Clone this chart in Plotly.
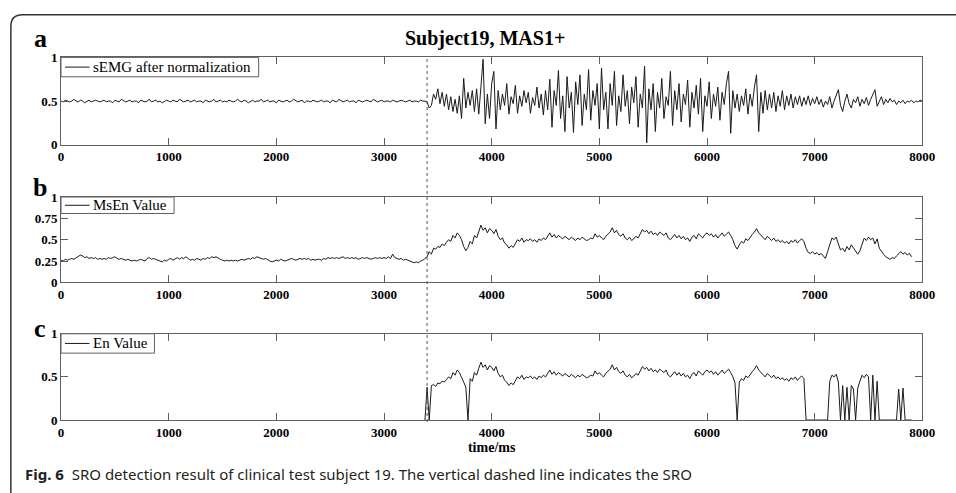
import plotly.graph_objects as go

W, H = 956, 493

# ---------------- data (20 ms sampling) ----------------
step_ms = 20
semg_start_ms = 0
msen_start_ms = 0
en_start_ms = 3380
sro_ms = 3400
x_ticks = [0, 1000, 2000, 3000, 4000, 5000, 6000, 7000, 8000]
ya_ticks = [0, 0.5, 1]
yb_ticks = [0, 0.25, 0.5, 0.75, 1]
yc_ticks = [0, 0.5, 1]
names = ["sEMG after normalization", "MsEn Value", "En Value"]

semg = [
    0.50,0.49,0.51,0.50,0.49,0.50,0.52,0.50,0.49,0.51,0.50,0.48,0.50,0.51,0.49,0.50,0.51,0.50,0.49,0.50,
    0.51,0.49,0.50,0.50,0.48,0.51,0.50,0.49,0.52,0.50,0.49,0.50,0.51,0.49,0.50,0.50,0.48,0.51,0.50,0.49,
    0.50,0.52,0.49,0.50,0.51,0.49,0.50,0.48,0.50,0.51,0.50,0.49,0.51,0.50,0.49,0.52,0.50,0.49,0.50,0.51,
    0.49,0.50,0.51,0.49,0.50,0.50,0.48,0.51,0.50,0.49,0.50,0.52,0.49,0.50,0.51,0.49,0.50,0.49,0.51,0.50,
    0.49,0.50,0.52,0.50,0.49,0.51,0.50,0.48,0.50,0.51,0.49,0.50,0.50,0.52,0.49,0.50,0.51,0.49,0.50,0.50,
    0.48,0.51,0.50,0.49,0.50,0.51,0.49,0.50,0.52,0.50,0.49,0.50,0.51,0.48,0.50,0.50,0.49,0.51,0.50,0.49,
    0.50,0.51,0.49,0.50,0.50,0.48,0.51,0.50,0.49,0.52,0.50,0.49,0.50,0.51,0.49,0.50,0.50,0.48,0.51,0.50,
    0.49,0.50,0.51,0.50,0.49,0.52,0.50,0.49,0.50,0.51,0.49,0.50,0.50,0.49,0.51,0.50,0.49,0.50,0.51,0.50,
    0.49,0.50,0.51,0.49,0.50,0.50,0.49,0.51,0.50,0.50,0.49,
    0.42,0.45,0.58,0.52,0.64,0.47,0.60,0.44,0.58,0.40,0.55,0.38,0.52,0.36,0.56,
    0.30,0.76,0.42,0.60,0.45,0.62,0.38,0.64,0.35,0.66,0.98,0.24,0.58,0.30,0.70,
    0.84,0.18,0.62,0.40,0.58,0.45,0.70,0.35,0.55,0.47,0.68,0.36,0.56,0.44,0.62,0.48,0.60,0.36,0.54,0.45,0.66,0.42,0.58,0.34,0.62,
    0.40,0.75,0.20,0.62,0.45,0.85,0.30,0.56,0.15,0.78,0.42,0.60,0.14,0.72,0.46,0.80,0.22,0.58,0.40,0.86,0.28,0.62,0.45,0.70,0.18,
    0.88,0.40,0.60,0.18,0.70,0.45,0.84,0.22,0.56,0.38,0.80,0.44,0.62,0.24,0.66,0.48,0.78,0.20,0.58,0.42,0.90,0.02,0.64,0.40,0.70,
    0.15,0.60,0.42,0.76,0.30,0.55,0.45,0.84,0.22,0.62,0.40,0.70,0.26,0.58,0.46,0.74,0.20,0.60,0.42,0.68,0.35,0.76,0.15,0.56,0.44,
    0.72,0.30,0.58,0.44,0.66,0.28,0.60,0.46,0.70,0.84,0.13,0.62,0.42,0.58,0.38,0.56,0.45,0.64,0.35,0.58,0.44,0.66,0.80,0.15,0.60,
    0.36,0.62,0.40,0.58,0.42,0.60,0.38,0.56,0.44,0.62,0.40,0.56,0.45,0.58,0.42,0.55,0.46,0.56,0.44,0.54,0.46,0.56,0.45,0.53,0.47,
    0.55,0.46,0.52,0.43,0.50,0.46,0.55,0.42,0.50,0.56,0.63,0.45,0.38,0.50,0.58,0.47,0.42,0.52,0.48,0.55,0.44,0.52,0.47,0.54,0.45,
    0.52,0.58,0.63,0.44,0.50,0.55,0.46,0.52,0.48,0.53,0.49,0.51,0.46,0.50,0.48,0.51,0.47,0.50,0.49,0.51,0.48,0.50,0.49,0.51,0.50,
]

msen = [
    0.26,0.25,0.27,0.26,0.27,0.28,0.27,0.29,0.30,0.32,0.31,0.29,0.30,0.28,0.29,0.28,0.29,0.27,0.28,0.27,
    0.28,0.27,0.29,0.28,0.29,0.30,0.28,0.27,0.28,0.27,0.26,0.27,0.26,0.25,0.26,0.25,0.26,0.27,0.26,0.25,
    0.28,0.29,0.27,0.28,0.27,0.26,0.25,0.24,0.26,0.25,0.27,0.28,0.26,0.28,0.29,0.27,0.29,0.28,0.30,0.28,
    0.26,0.27,0.26,0.28,0.27,0.26,0.28,0.27,0.29,0.28,0.30,0.29,0.30,0.28,0.27,0.26,0.25,0.26,0.25,0.26,
    0.25,0.26,0.25,0.26,0.27,0.26,0.27,0.28,0.27,0.29,0.28,0.30,0.29,0.28,0.27,0.28,0.26,0.25,0.24,0.25,
    0.26,0.25,0.27,0.26,0.25,0.26,0.27,0.28,0.27,0.26,0.27,0.28,0.27,0.28,0.27,0.28,0.26,0.27,0.26,0.27,
    0.27,0.26,0.28,0.27,0.29,0.28,0.29,0.28,0.29,0.28,0.29,0.30,0.28,0.29,0.28,0.29,0.28,0.29,0.27,0.28,
    0.29,0.28,0.29,0.28,0.27,0.28,0.29,0.28,0.29,0.28,0.29,0.28,0.30,0.28,0.33,0.29,0.28,0.27,0.28,0.26,
    0.27,0.26,0.25,0.24,0.23,0.24,0.23,0.25,0.26,0.28,0.30,0.36,0.33,0.40,0.39,0.42,0.41,0.45,0.43,0.47,
    0.50,0.48,0.55,0.52,0.58,0.55,0.50,0.42,0.37,0.41,0.48,0.45,0.55,0.52,0.60,0.67,0.61,0.64,0.58,0.63,
    0.61,0.57,0.62,0.54,0.50,0.52,0.46,0.44,0.40,0.43,0.41,0.46,0.50,0.48,0.52,0.47,0.50,0.49,0.51,0.48,
    0.50,0.47,0.51,0.49,0.52,0.50,0.54,0.58,0.53,0.56,0.52,0.55,0.53,0.51,0.54,0.52,0.50,0.53,0.51,0.49,
    0.52,0.50,0.53,0.51,0.49,0.50,0.52,0.51,0.57,0.53,0.55,0.52,0.50,0.54,0.56,0.59,0.64,0.58,0.61,0.56,
    0.54,0.57,0.52,0.50,0.53,0.49,0.51,0.54,0.52,0.58,0.62,0.59,0.61,0.57,0.60,0.56,0.58,0.55,0.59,0.57,
    0.55,0.58,0.52,0.50,0.53,0.56,0.52,0.55,0.51,0.54,0.50,0.52,0.48,0.53,0.55,0.51,0.57,0.54,0.52,0.56,
    0.58,0.55,0.57,0.53,0.56,0.52,0.55,0.58,0.54,0.57,0.59,0.55,0.50,0.43,0.39,0.44,0.48,0.46,0.51,0.49,
    0.53,0.56,0.59,0.63,0.58,0.55,0.52,0.50,0.54,0.51,0.49,0.52,0.48,0.50,0.47,0.49,0.46,0.48,0.45,0.49,
    0.47,0.50,0.46,0.49,0.51,0.48,0.40,0.35,0.34,0.36,0.33,0.35,0.32,0.34,0.31,0.28,0.36,0.45,0.52,0.50,
    0.53,0.45,0.38,0.40,0.36,0.42,0.38,0.44,0.40,0.36,0.33,0.37,0.45,0.52,0.49,0.53,0.50,0.52,0.45,0.51,
    0.40,0.36,0.33,0.30,0.28,0.27,0.29,0.28,0.31,0.34,0.36,0.33,0.35,0.32,0.34,0.30,
]

en = [
    0.00,0.38,0.00,0.40,0.41,0.39,0.43,0.42,0.45,0.44,0.47,
    0.50,0.48,0.55,0.52,0.58,0.55,0.50,0.44,0.38,0.00,0.48,0.45,0.55,0.52,0.60,0.67,0.61,0.64,0.58,0.63,
    0.61,0.57,0.62,0.54,0.50,0.52,0.46,0.44,0.40,0.43,0.41,0.46,0.50,0.48,0.52,0.47,0.50,0.49,0.51,0.48,
    0.50,0.47,0.51,0.49,0.52,0.50,0.54,0.58,0.53,0.56,0.52,0.55,0.53,0.51,0.54,0.52,0.50,0.53,0.51,0.49,
    0.52,0.50,0.53,0.51,0.49,0.50,0.52,0.51,0.57,0.53,0.55,0.52,0.50,0.54,0.56,0.59,0.64,0.58,0.61,0.56,
    0.54,0.57,0.52,0.50,0.53,0.49,0.51,0.54,0.52,0.58,0.62,0.59,0.61,0.57,0.60,0.56,0.58,0.55,0.59,0.57,
    0.55,0.58,0.52,0.50,0.53,0.56,0.52,0.55,0.51,0.54,0.50,0.52,0.48,0.53,0.55,0.51,0.57,0.54,0.52,0.56,
    0.58,0.55,0.57,0.53,0.56,0.52,0.55,0.58,0.54,0.57,0.59,0.55,0.50,0.43,0.00,0.44,0.48,0.46,0.51,0.49,
    0.53,0.56,0.59,0.63,0.58,0.55,0.52,0.50,0.54,0.51,0.49,0.52,0.48,0.50,0.47,0.49,0.46,0.48,0.45,0.49,
    0.47,0.50,0.46,0.49,0.51,0.48,0.00,0.00,0.00,0.00,0.00,0.00,0.00,0.00,0.00,0.00,0.00,0.45,0.52,0.50,
    0.53,0.44,0.00,0.40,0.00,0.38,0.00,0.40,0.36,0.00,0.37,0.45,0.52,0.49,0.53,0.50,0.00,0.52,0.00,0.45,
    0.00,0.00,0.00,0.00,0.00,0.00,0.00,0.00,0.00,0.36,0.00,0.37,0.00,0.00,0.00,0.00,
]

semg_t = [semg_start_ms + i * step_ms for i in range(len(semg))]
msen_t = [msen_start_ms + i * step_ms for i in range(len(msen))]
en_t = [en_start_ms + i * step_ms for i in range(len(en))]

# ---------------- layout helpers (pixel -> paper) ----------------
def px(x):
    return x / W

def py(y):
    return 1 - y / H

X_DOM = [px(59), px(935)]
A_DOM = [py(142), py(52)]
B_DOM = [py(284), py(196)]
C_DOM = [py(426), py(337)]

SERIF = "Liberation Serif"
AXIS_COL = "#606060"
LINE_COL = "#1a1a1a"

fig = go.Figure()
for (xs, ys, nm, xa, ya) in ((semg_t, semg, names[0], "x", "y"),
                             (msen_t, msen, names[1], "x2", "y2"),
                             (en_t, en, names[2], "x3", "y3")):
    fig.add_trace(go.Scatter(x=xs, y=ys, mode="lines", name=nm, showlegend=False,
                             line=dict(color=LINE_COL, width=1), xaxis=xa, yaxis=ya))

tickfont = dict(family=SERIF, size=13, color="black", weight="bold")
common = dict(showline=True, linecolor=AXIS_COL, linewidth=1, mirror="ticks", ticks="inside",
              ticklen=7, tickcolor=AXIS_COL, tickwidth=1, showgrid=False, zeroline=False,
              tickfont=tickfont, fixedrange=True)

def xax(anchor):
    return dict(common, domain=X_DOM, range=[0, 8000], tickvals=x_ticks,
                ticktext=[str(v) for v in x_ticks], anchor=anchor)

def yax(anchor, dom, ticks):
    return dict(common, domain=dom, range=[0, 1], tickvals=ticks,
                ticktext=[("%g" % v) for v in ticks], anchor=anchor)

x3 = xax("y3")
x3["title"] = dict(text="time/ms", font=dict(family=SERIF, size=14, color="black", weight="bold"),
                   standoff=2)

fig.update_layout(
    width=W, height=H,
    margin=dict(l=0, r=0, t=0, b=0),
    paper_bgcolor="white", plot_bgcolor="white",
    xaxis=xax("y"), yaxis=yax("x", A_DOM, ya_ticks),
    xaxis2=xax("y2"), yaxis2=yax("x2", B_DOM, yb_ticks),
    xaxis3=x3, yaxis3=yax("x3", C_DOM, yc_ticks),
    showlegend=False,
)

# legend boxes (drawn as shapes + text, top-left of each panel)
legend_boxes = [(names[0], 52, 72, 260), (names[1], 196, 213, 174), (names[2], 337, 357, 154)]
for nm, top, bot, right in legend_boxes:
    yc = (top + bot) / 2
    fig.add_shape(type="rect", xref="paper", yref="paper", x0=px(59), x1=px(right),
                  y0=py(bot), y1=py(top), line=dict(color=AXIS_COL, width=1),
                  fillcolor="white", layer="above")
    fig.add_shape(type="line", xref="paper", yref="paper", x0=px(63), x1=px(88),
                  y0=py(yc), y1=py(yc), line=dict(color=LINE_COL, width=1), layer="above")
    fig.add_annotation(text=nm, xref="paper", yref="paper", x=px(89), y=py(yc),
                       xanchor="left", yanchor="middle", showarrow=False,
                       font=dict(family=SERIF, size=15, color="black"))

# SRO dashed line across all three panels
fig.add_shape(type="line", xref="x", yref="paper", x0=sro_ms, x1=sro_ms, y0=py(428), y1=py(52),
              line=dict(color="#555555", width=1, dash="dot"), layer="above")

# outer rounded frame
frame = (f"M {px(970)},{py(8)} L {px(20)},{py(8)} Q {px(8)},{py(8)} {px(8)},{py(20)} "
         f"L {px(8)},{py(510)}")
fig.add_shape(type="path", xref="paper", yref="paper", path=frame,
              line=dict(color="#333333", width=1.5))

# panel letters and title
for letter, yy in (("a", 33), ("b", 186), ("c", 332)):
    fig.add_annotation(text=letter, xref="paper", yref="paper", x=px(38), y=py(yy),
                       xanchor="center", yanchor="middle", showarrow=False,
                       font=dict(family=SERIF, size=26, color="black", weight="bold"))

fig.add_annotation(text="Subject19, MAS1+", xref="paper", yref="paper", x=px(490), y=py(32),
                   xanchor="center", yanchor="middle", showarrow=False,
                   font=dict(family=SERIF, size=20, color="black", weight="bold"))

fig.add_annotation(
    text="<b>Fig. 6</b>&nbsp;&nbsp;SRO detection result of clinical test subject 19. The vertical dashed line indicates the SRO",
    xref="paper", yref="paper", x=px(20), y=py(482), xanchor="left", yanchor="middle",
    showarrow=False, font=dict(family="Noto Sans", size=15, color="#231f20"))

fig.write_html("out.html",
               config={"displayModeBar": False},
               post_script="document.body.style.margin='0';document.body.style.overflow='hidden';")
